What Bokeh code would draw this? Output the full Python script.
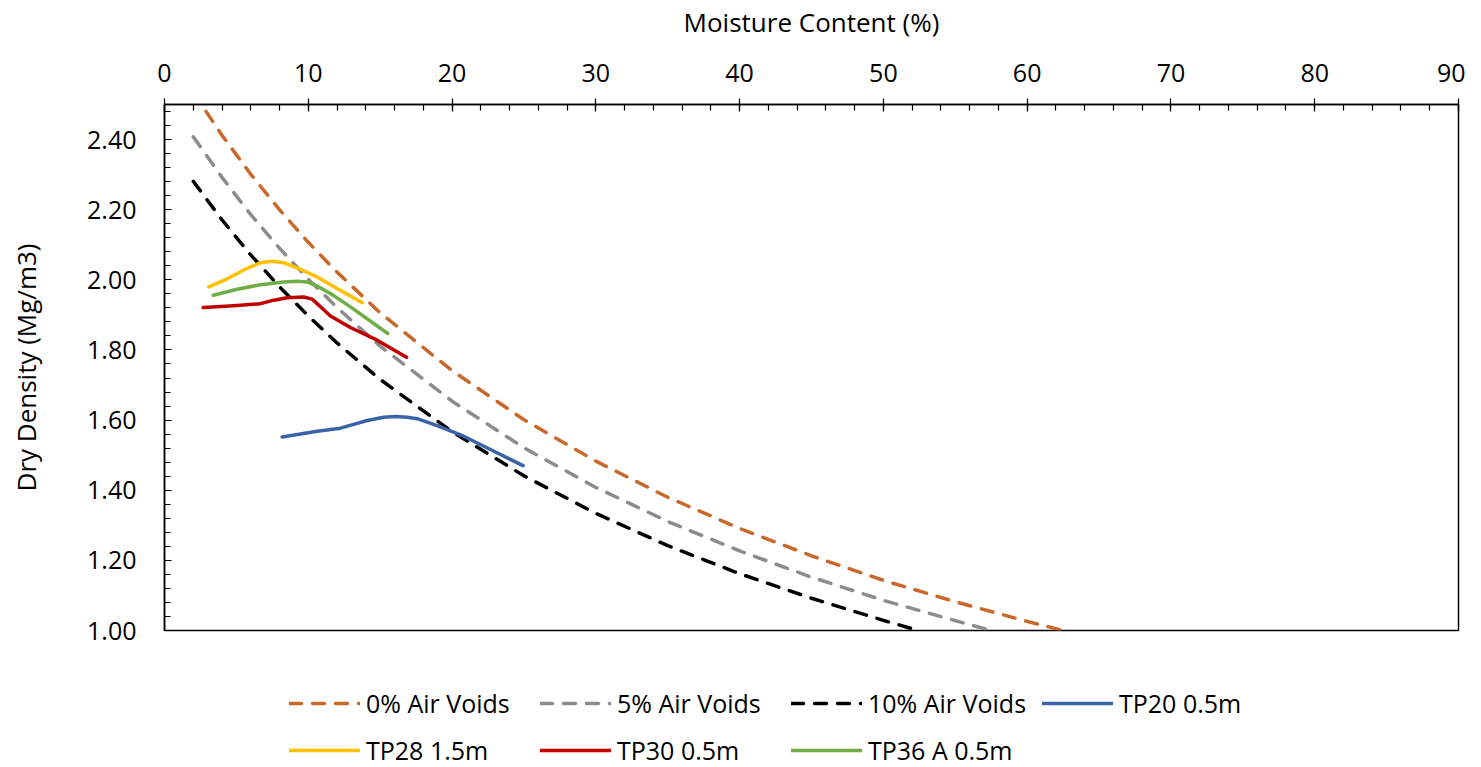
from bokeh.plotting import figure
from bokeh.layouts import column
from bokeh.models import Range1d, SingleIntervalTicker, Legend, LegendItem, PrintfTickFormatter
from bokeh.embed import file_html
from bokeh.resources import INLINE

# ---- data ----
av0_w = [2, 4, 6, 8, 10, 12, 15, 20, 25, 30, 35, 40, 45, 50, 55, 60, 62.5]
av0_d = [2.535, 2.412, 2.301, 2.200, 2.107, 2.022, 1.906, 1.741, 1.601, 1.483, 1.380, 1.291, 1.213, 1.143, 1.082, 1.026, 1.000]

av5_w = [2, 4, 6, 8, 10, 12, 15, 20, 25, 30, 35, 40, 45, 50, 55, 57.5]
av5_d = [2.408, 2.292, 2.186, 2.090, 2.002, 1.921, 1.811, 1.654, 1.521, 1.408, 1.311, 1.227, 1.152, 1.086, 1.028, 1.000]

av10_w = [2, 4, 6, 8, 10, 12, 15, 20, 25, 30, 35, 40, 45, 50, 52.5]
av10_d = [2.281, 2.171, 2.071, 1.980, 1.897, 1.820, 1.716, 1.567, 1.441, 1.334, 1.242, 1.162, 1.092, 1.029, 0.999]

tp20_w = [8.18, 10.62, 12.24, 14.1, 15.25, 16.06, 16.88, 17.57, 18.96, 20.81, 22.67, 24.94]
tp20_d = [1.552, 1.568, 1.577, 1.599, 1.608, 1.610, 1.608, 1.604, 1.584, 1.554, 1.516, 1.470]

tp28_w = [3.08, 4.36, 5.75, 6.68, 7.49, 8.30, 9.46, 10.62, 12.0, 13.75]
tp28_d = [1.980, 2.003, 2.033, 2.049, 2.053, 2.049, 2.030, 2.008, 1.975, 1.935]

tp30_w = [2.69, 4.82, 6.68, 7.60, 8.53, 9.69, 10.27, 10.85, 11.54, 12.93, 14.79, 16.83]
tp30_d = [1.921, 1.926, 1.932, 1.942, 1.949, 1.951, 1.945, 1.923, 1.897, 1.864, 1.828, 1.779]

tp36_w = [3.39, 5.05, 6.68, 8.30, 9.23, 9.92, 10.62, 11.54, 12.93, 15.53]
tp36_d = [1.956, 1.973, 1.986, 1.994, 1.996, 1.994, 1.982, 1.961, 1.923, 1.847]

labels = ["0% Air Voids", "5% Air Voids", "10% Air Voids", "TP20 0.5m",
          "TP28 1.5m", "TP30 0.5m", "TP36 A 0.5m"]
colors = ["#C8692B", "#8C8C8C", "#000000", "#3B63A8", "#FFC000", "#C00000", "#70AD47"]
series = [(av0_w, av0_d), (av5_w, av5_d), (av10_w, av10_d), (tp20_w, tp20_d),
          (tp28_w, tp28_d), (tp30_w, tp30_d), (tp36_w, tp36_d)]
dashed = [True, True, True, False, False, False, False]

FONT = "Open Sans"
FS = "25px"
W = 1465

p = figure(width=W, height=650, output_backend="svg", toolbar_location=None,
           x_range=Range1d(0, 90), y_range=Range1d(1.0, 2.5),
           x_axis_location="above", min_border_left=164, min_border_right=7,
           min_border_top=102, min_border_bottom=20)
p.xgrid.visible = False
p.ygrid.visible = False
p.outline_line_color = "black"
p.outline_line_width = 1.5

xa = p.xaxis[0]
xa.ticker = SingleIntervalTicker(interval=10, num_minor_ticks=5)
xa.axis_label = "Moisture Content (%)"
ya = p.yaxis[0]
ya.ticker = SingleIntervalTicker(interval=0.2, num_minor_ticks=5)
ya.formatter = PrintfTickFormatter(format="%.2f")
ya.axis_label = "Dry Density (Mg/m3)"

for ax in (xa, ya):
    ax.axis_line_color = "black"
    ax.axis_line_width = 1.5
    ax.major_tick_line_color = "black"
    ax.minor_tick_line_color = "black"
    ax.major_tick_line_width = 1.2
    ax.minor_tick_line_width = 1.2
    ax.major_label_text_font = FONT
    ax.major_label_text_font_size = FS
    ax.major_label_text_color = "black"
    ax.axis_label_text_font = FONT
    ax.axis_label_text_font_size = "26px"
    ax.axis_label_text_font_style = "normal"
    ax.axis_label_text_color = "black"

xa.major_tick_out = 6
xa.major_tick_in = 7
xa.minor_tick_out = 0
xa.minor_tick_in = 6
xa.major_label_standoff = 17
xa.axis_label_standoff = 21

ya.major_tick_out = 0
ya.major_tick_in = 7
ya.minor_tick_out = 0
ya.minor_tick_in = 6
ya.major_label_standoff = 28
ya.axis_label_standoff = 40

# legend figure (same series, drawn outside its visible range)
q = figure(width=W, height=117, output_backend="svg", toolbar_location=None,
           x_range=Range1d(-20, -10), y_range=Range1d(-20, -10),
           x_axis_type=None, y_axis_type=None, min_border=0)
q.xgrid.visible = False
q.ygrid.visible = False
q.outline_line_color = None

items = []
for (xs, ys), lab, col, d in zip(series, labels, colors, dashed):
    kw = dict(line_color=col, line_width=3.5, line_cap="round", line_join="round")
    if d:
        kw["line_dash"] = "12 11"
    p.line(xs, ys, **kw)
    rq = q.line(xs, ys, **kw)
    items.append(LegendItem(label=lab, renderers=[rq]))

legend = Legend(items=items, location=(125, 0), orientation="horizontal", ncols=4)
legend.label_text_font = FONT
legend.label_text_font_size = FS
legend.label_text_color = "black"
legend.glyph_width = 71
legend.glyph_height = 30
legend.label_height = 30
legend.label_width = 161
legend.label_standoff = 6
legend.spacing = 13
legend.padding = 0
legend.margin = 0
legend.border_line_alpha = 0
legend.background_fill_alpha = 0
q.add_layout(legend, "center")

layout = column(p, q, spacing=0)
open("out.html", "w").write(file_html(layout, INLINE))
